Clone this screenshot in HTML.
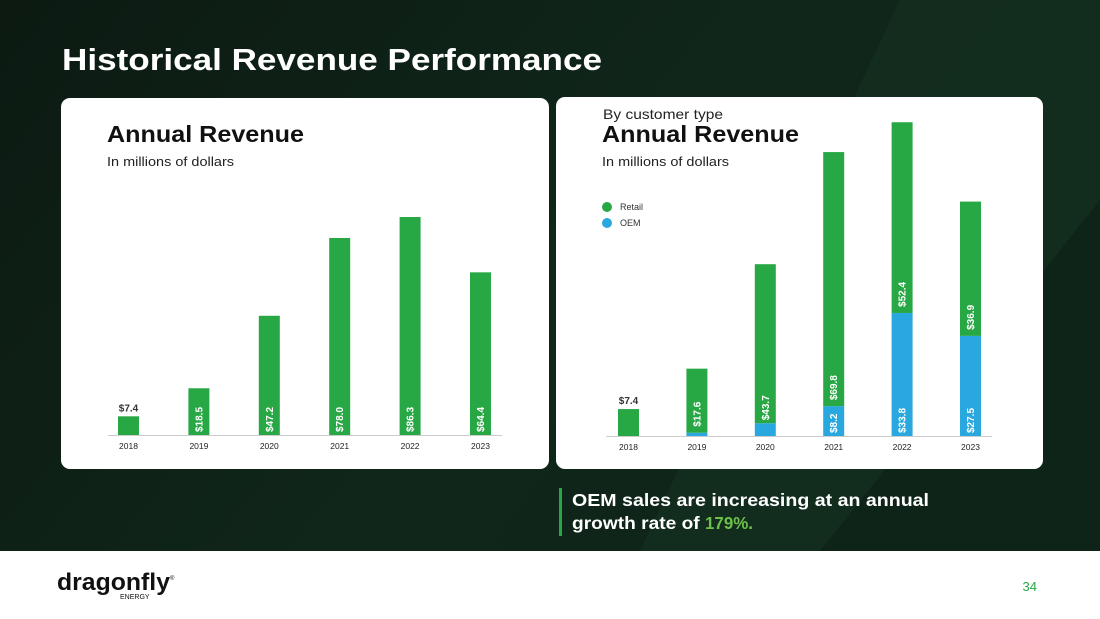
<!DOCTYPE html>
<html><head><meta charset="utf-8">
<style>
html,body{margin:0;padding:0;width:1100px;height:619px;overflow:hidden;font-family:"Liberation Sans",sans-serif;}
svg{display:block}
</style></head>
<body>
<svg id="s" width="1100" height="619" viewBox="0 0 1100 619" xmlns="http://www.w3.org/2000/svg">
<defs>
<linearGradient id="bg" x1="0" y1="0" x2="1" y2="0.4">
<stop offset="0" stop-color="#0c1a12"/><stop offset="0.6" stop-color="#10261a"/><stop offset="1" stop-color="#0f2419"/>
</linearGradient>
</defs>
<rect x="0" y="0" width="1100" height="551" fill="url(#bg)"/>
<polygon points="900,0 1100,0 1100,200 820,551 640,551" fill="#153322" opacity="0.55"/>
<rect x="0" y="551" width="1100" height="68" fill="#ffffff"/>
<text x="62" y="70" font-size="31" font-weight="bold" fill="#ffffff" textLength="540" lengthAdjust="spacingAndGlyphs">Historical Revenue Performance</text>

<rect x="61" y="98" width="488" height="371" rx="9" fill="#fff"/>
<rect x="556" y="97" width="487" height="372" rx="9" fill="#fff"/>

<text x="107" y="142" font-size="23" font-weight="bold" fill="#111" textLength="197" lengthAdjust="spacingAndGlyphs">Annual Revenue</text>
<text x="107" y="166" font-size="13" fill="#222" textLength="127" lengthAdjust="spacingAndGlyphs">In millions of dollars</text>

<text x="603" y="119" font-size="14" fill="#222" textLength="120" lengthAdjust="spacingAndGlyphs">By customer type</text>
<text x="602" y="142" font-size="23" font-weight="bold" fill="#111" textLength="197" lengthAdjust="spacingAndGlyphs">Annual Revenue</text>
<text x="602" y="166" font-size="13" fill="#222" textLength="127" lengthAdjust="spacingAndGlyphs">In millions of dollars</text>
<g>
<circle cx="607" cy="207" r="5" fill="#28a745"/>
<text x="620" y="210" font-size="9" fill="#333">Retail</text>
<circle cx="607" cy="223" r="5" fill="#29a8e0"/>
<text x="620" y="226" font-size="9" fill="#333">OEM</text>
</g>

<g id="left"></g>
<g id="right"></g>

<rect x="559" y="488" width="3" height="48" fill="#28a745"/>
<text x="572" y="506" font-size="17.5" font-weight="bold" fill="#fff" textLength="357" lengthAdjust="spacingAndGlyphs">OEM sales are increasing at an annual</text>
<text x="572" y="529" font-size="17.5" font-weight="bold" fill="#fff"><tspan textLength="133" lengthAdjust="spacingAndGlyphs">growth rate of </tspan><tspan fill="#6cc04a" textLength="48" lengthAdjust="spacingAndGlyphs">179%.</tspan></text>

<g>
<text x="57" y="590" font-size="24" font-weight="bold" fill="#111" textLength="113" lengthAdjust="spacingAndGlyphs">dragonfly</text>
<text x="170" y="580" font-size="6" fill="#111">®</text>
<text x="120" y="599" font-size="7" fill="#111">ENERGY</text>
</g>
<text x="1037" y="591" font-size="13" fill="#28a745" text-anchor="end">34</text>
</svg>
<script>
const years=["2018","2019","2020","2021","2022","2023"];
const totalRevenue=[7.4,18.5,47.2,78.0,86.3,64.4];
const retailRevenue=[7.4,17.6,43.7,69.8,52.4,36.9];
const oemRevenue=[0,0.9,3.5,8.2,33.8,27.5];
const oemLabels=["","","","$8.2","$33.8","$27.5"];

const NS="http://www.w3.org/2000/svg";
function mk(p,tag,a){const e=document.createElementNS(NS,tag);for(const k in a)e.setAttribute(k,a[k]);p.appendChild(e);return e;}
function fmt(v){return "$"+v.toFixed(1);}

const L={x0:128.5,step:70.4,base:435,k:2.526,w:21};
const lx=i=>L.x0+i*L.step, ly=v=>L.base-v*L.k;
const lg=document.getElementById('left');
let ax=mk(lg,'line',{x1:108,x2:502,y1:L.base+0.5,y2:L.base+0.5,stroke:'#ccc','stroke-width':1});


years.forEach((y,i)=>{
  const r=mk(lg,'rect',{x:lx(i)-L.w/2,y:ly(totalRevenue[i]),width:L.w,height:L.base-ly(totalRevenue[i]),fill:'#28a745'});
  
  
  const t=mk(lg,'text',{x:lx(i),y:L.base+14,'font-size':8.5,fill:'#222','text-anchor':'middle'});t.textContent=y;
  
  
  let v;
  if(i===0){v=mk(lg,'text',{x:lx(i),y:ly(totalRevenue[i])-5,'font-size':10,'font-weight':'bold',fill:'#333','text-anchor':'middle'});}
  else{v=mk(lg,'text',{x:0,y:0,'font-size':10,'font-weight':'bold',fill:'#fff',transform:`translate(${lx(i)+3.5},${L.base-3}) rotate(-90)`});}
  v.textContent=fmt(totalRevenue[i]);
  
  
});

const R={x0:628.5,step:68.4,base:436,k:3.64,w:21};
const rx=i=>R.x0+i*R.step, ry=v=>R.base-v*R.k;
const rg=document.getElementById('right');
ax=mk(rg,'line',{x1:606,x2:992,y1:R.base+0.5,y2:R.base+0.5,stroke:'#ccc','stroke-width':1});


years.forEach((y,i)=>{
  const o=oemRevenue[i], re=retailRevenue[i];
  const ob=mk(rg,'rect',{x:rx(i)-R.w/2,y:ry(o),width:R.w,height:R.base-ry(o),fill:'#29a8e0'});
  
  
  const rb=mk(rg,'rect',{x:rx(i)-R.w/2,y:ry(o+re),width:R.w,height:ry(o)-ry(o+re),fill:'#28a745'});
  
  
  const t=mk(rg,'text',{x:rx(i),y:R.base+14,'font-size':8.5,fill:'#222','text-anchor':'middle'});t.textContent=y;
  
  
  let v;
  if(i===0){v=mk(rg,'text',{x:rx(i),y:ry(re)-5,'font-size':10,'font-weight':'bold',fill:'#333','text-anchor':'middle'});}
  else{v=mk(rg,'text',{x:0,y:0,'font-size':10,'font-weight':'bold',fill:'#fff',transform:`translate(${rx(i)+3.5},${ry(o)-(o>5?6:3)-(i===1?3:0)}) rotate(-90)`});}
  v.textContent=fmt(re);
  
  
  if(oemLabels[i]){
    const ol=mk(rg,'text',{x:0,y:0,'font-size':10,'font-weight':'bold',fill:'#fff',transform:`translate(${rx(i)+3.5},${R.base-3}) rotate(-90)`});
    ol.textContent=oemLabels[i];
    
    
  }
});
</script>
</body></html>
